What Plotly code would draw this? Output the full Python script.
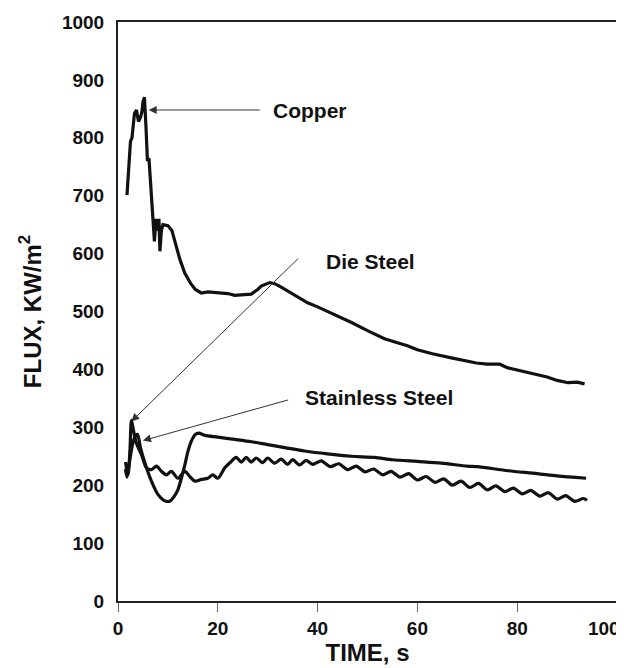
import plotly.graph_objects as go

# ---- data ----
copper_t = [1.8, 2.2, 2.5, 2.8, 3.0, 3.3, 3.7, 4.1, 4.5, 4.8, 5.0, 5.3, 5.6, 5.9, 6.2, 6.7, 7.0,
            7.3, 7.6, 7.9, 8.2, 8.4, 8.7, 9.0, 10.0, 10.8, 11.4, 12.4, 13.4, 14.6, 15.5, 16.7,
            18, 20, 22, 23.4, 25, 26.7, 28, 28.7, 30.4, 31.4, 32.7, 34, 36, 38, 40, 42, 44.8,
            46.8, 50, 53.4, 56, 58, 60, 63, 66.8, 70, 71.8, 74, 76.5, 78, 80, 82, 84.8, 86, 88,
            90.2, 92, 93.5]
copper_v = [701, 760, 794, 800, 820, 842, 848, 828, 835, 845, 862, 870, 820, 760, 765, 690, 650,
            621, 660, 640, 660, 604, 640, 650, 648, 640, 621, 590, 566, 548, 538, 532,
            534, 533, 531, 528, 529, 530, 538, 544, 550, 548, 542, 535, 525, 515, 508, 500, 490,
            481, 467, 453, 446, 441, 434, 427, 420, 414, 411, 409, 409, 403, 399, 394, 388, 387, 381,
            377, 378, 375]

die_t = [1.5, 2.0, 2.4, 2.7, 3.1, 3.6, 4.2, 4.7, 5.7, 6.7, 7.7, 8.7, 9.7, 10.7, 12.0, 13.4,
         14.4, 15.4, 16.7, 18.0, 19.0, 20.0, 21.4, 22.7, 23.7, 24.7, 25.7, 26.7, 27.7, 29.0,
         30.0, 31.4, 32.7, 34.0, 35.0, 36.4, 37.7, 39.0, 40.75, 42.5, 44.25, 46.0, 47.75,
         49.5, 51.25, 53.0, 54.75, 56.5, 58.25, 60.0, 61.75, 63.5, 65.25, 67.0, 68.75, 70.5,
         72.25, 74.0, 75.75, 77.5, 79.25, 81.0, 82.75, 84.5, 86.25, 88.0, 89.75, 91.5, 93.25, 94.0]
die_v = [240, 218, 262, 312, 295, 275, 262, 253, 230, 227, 233, 224, 218, 224, 212, 224,
         215, 207, 210, 212, 218, 212, 230, 241, 248, 240, 248, 240, 247, 239,
         247, 238, 245, 236, 244, 235, 243, 236, 242, 232, 237, 227, 233,
         223, 228, 218, 224, 214, 220, 209, 215, 205, 211, 200, 207, 196,
         203, 192, 199, 189, 195, 185, 191, 181, 187, 176, 182, 172, 177, 174]

ss_t = [1.5, 1.8, 2.3, 2.9, 3.5, 3.9, 4.5, 5.3, 6.7, 8.0, 9.0, 9.7, 10.5, 11.2, 12.0, 12.7,
        13.4, 14.0, 14.7, 15.4, 16.2, 17.4, 20, 23.4, 26.7, 30, 33.4, 37.4, 42, 46.8, 51.4,
        55, 60, 64.8, 70, 72, 78.2, 84, 88, 93.8]
ss_v = [228, 214, 240, 270, 285, 288, 265, 241, 207, 184, 175, 172, 173, 180, 192, 212,
        235, 258, 276, 287, 290, 286, 283, 279, 275, 270, 265, 259, 254, 250, 248,
        244, 241, 238, 233, 232, 225, 220, 216, 212]

labels = ["Copper", "Die Steel", "Stainless Steel"]
label_x = [30.7, 50.6, 52.3]
label_y = [848, 587, 351]
arrow_head_x = [6.15, 2.67, 5.0]
arrow_head_y = [848, 310, 277]
arrow_tail_x = [28.7, 36.4, 34.4]
arrow_tail_y = [848, 594, 348]

x_ticks = [0, 20, 40, 60, 80, 100]
x_ticktext = ["0", "20", "40", "60", "80", "100"]
y_ticks = [0, 100, 200, 300, 400, 500, 600, 700, 800, 900, 1000]

FONT = "Liberation Sans, Arial, sans-serif"

fig = go.Figure()
series = [(copper_t, copper_v, "linear"), (die_t, die_v, "spline"), (ss_t, ss_v, "spline")]
for t, v, shape in series:
    fig.add_trace(go.Scatter(x=t, y=v, mode="lines",
                             line=dict(color="#111111", width=3.2, shape=shape, smoothing=0.8),
                             showlegend=False, hoverinfo="skip"))

annotations = []
for i, lab in enumerate(labels):
    annotations.append(dict(x=arrow_head_x[i], y=arrow_head_y[i], xref="x", yref="y",
                            ax=arrow_tail_x[i], ay=arrow_tail_y[i], axref="x", ayref="y",
                            text="", showarrow=True, arrowhead=2, arrowsize=1.6,
                            arrowwidth=1, arrowcolor="#333333", standoff=0, startstandoff=0))
    xanchor = "left" if i == 0 else "center"
    annotations.append(dict(x=label_x[i], y=label_y[i], xref="x", yref="y",
                            text="<b>%s</b>" % lab, showarrow=False,
                            xanchor=xanchor, yanchor="middle",
                            font=dict(family=FONT, size=21, color="#111111")))

# last x tick label sits left of its tick in the reference (kept inside the page)
xt = ["<b>%s</b>" % s for s in x_ticktext]
xt[-1] = xt[-1] + "&nbsp;" * 5

fig.update_layout(
    width=624, height=668,
    margin=dict(l=110, r=15, t=14, b=75, autoexpand=False),
    paper_bgcolor="white", plot_bgcolor="white",
    showlegend=False,
    annotations=annotations,
    font=dict(family=FONT, color="#111111"),
)
fig.update_xaxes(range=[0, 100], tickvals=x_ticks, ticktext=xt,
                 showgrid=False, zeroline=False, showline=True, linewidth=2, linecolor="#222222",
                 mirror=True, ticks="outside", ticklen=9, tickwidth=1, tickcolor="#666666",
                 automargin=False, ticklabeloverflow="allow",
                 tickfont=dict(family=FONT, size=19, color="#111111"),
                 title=dict(text="<b>TIME, s</b>", font=dict(family=FONT, size=24, color="#111111"),
                            standoff=5))
fig.update_yaxes(range=[0, 1000], tickvals=y_ticks, ticktext=["<b>%d</b>" % v for v in y_ticks],
                 showgrid=False, zeroline=False, showline=True, linewidth=2, linecolor="#222222",
                 mirror=True, ticks="", ticklabelstandoff=8, automargin=False,
                 ticklabeloverflow="allow",
                 tickfont=dict(family=FONT, size=19, color="#111111"),
                 title=dict(text="<b>FLUX, KW/m<sup>2</sup></b>",
                            font=dict(family=FONT, size=24, color="#111111"), standoff=14))

fig.write_html("out.html")
